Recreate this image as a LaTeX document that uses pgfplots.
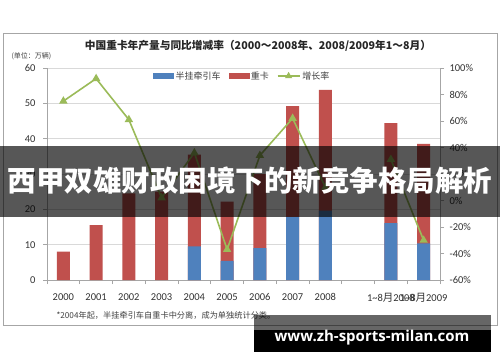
\documentclass[border=0pt]{standalone}
\usepackage{pgfplots}
\pgfplotsset{compat=1.18}
\usepackage{fontspec}
\setmainfont{Carlito}
\newfontfamily\cjk{Noto Sans CJK SC}
\newfontfamily\wmfont{Open Sans}
\definecolor{xblue}{HTML}{4F81BD}
\definecolor{xred}{HTML}{C0504D}
\definecolor{xgreen}{HTML}{9BBB59}
\definecolor{xgrid}{HTML}{D9D9D9}
\begin{document}
\begin{tikzpicture}
\path[use as bounding box, fill=white] (0pt,0pt) rectangle (500pt,362pt);
% outer frame
\draw[black!35, line width=0.8pt] (3pt,37pt) rectangle (497pt,329pt);
\node[font=\cjk\bfseries\fontsize{10.7}{13}\selectfont, text=black!85] at (258pt,316pt)
  {中国重卡年产量与同比增减率（2000～2008年、2008/2009年1～8月）};
\node[font=\cjk\fontsize{7}{8}\selectfont, text=black!75, anchor=west] at (8pt,306pt) {(单位：万辆)};
\begin{axis}[
  at={(47pt,82pt)}, anchor=south west, width=393pt, height=212pt, scale only axis,
  xmin=-0.5, xmax=11.5, ymin=0, ymax=60,
  /pgf/number format/assume math mode=true,
  axis x line*=bottom, axis y line*=left,
  axis line style={black!35},
  ytick={0,10,...,60},
  ymajorgrids, grid style={xgrid, line width=0.7pt},
  xtick={0,1,2,3,4,5,6,7,8,10,11},
  xticklabels={2000,2001,2002,2003,2004,2005,2006,2007,2008,{1\textasciitilde8{\cjk 月}2008},{1\textasciitilde8{\cjk 月}2009}},
  major x tick style={draw=none},
  minor xtick={-0.5,0.5,...,11.5},
  minor x tick style={black!35, line width=0.7pt},
  minor tick length=4pt,
  major tick length=4pt,
  y tick style={black!35, line width=0.7pt},
  tick align=outside,
  tick label style={font=\fontsize{10.5}{12}\selectfont, text=black!80},
  xticklabel style={yshift=-6pt},
  yticklabel style={xshift=-4pt},
  clip=false,
]
\addplot[ybar, bar width=13pt, bar shift=0pt, fill=xred, draw=none]
  coordinates {(0,8.0)(1,15.5)(2,24.5)(3,25.0)(4,35.5)(5,22.2)(6,30.0)(7,49.2)(8,53.8)(10,44.4)(11,38.5)};
\addplot[ybar, bar width=13pt, bar shift=0pt, fill=xblue, draw=none]
  coordinates {(4,9.5)(5,5.4)(6,9.0)(7,17.9)(8,19.6)(10,16.1)(11,10.4)};
\end{axis}
\begin{axis}[
  at={(47pt,82pt)}, anchor=south west, width=393pt, height=212pt, scale only axis,
  xmin=-0.5, xmax=11.5, ymin=-60, ymax=100,
  axis x line=none, axis y line*=right,
  axis line style={black!35},
  ytick={-60,-40,-20,0,20,40,60,80,100},
  yticklabels={-60\%,-40\%,-20\%,0\%,20\%,40\%,60\%,80\%,100\%},
  y tick style={black!35, line width=0.7pt},
  tick align=outside, major tick length=4pt,
  tick label style={font=\fontsize{10.5}{12}\selectfont, text=black!80},
  yticklabel style={xshift=2pt},
  clip=false,
  legend columns=3,
  legend style={at={(axis description cs:0.262,0.962)}, anchor=west, draw=none, fill=none,
    font=\cjk\fontsize{9}{10}\selectfont, text=black!75,
    /tikz/every even column/.append style={column sep=6pt}},
]
\addlegendimage{legend image code/.code={\fill[xblue] (0pt,-2.5pt) rectangle (20pt,2.5pt);}}
\addlegendentry{半挂牵引车}
\addlegendimage{legend image code/.code={\fill[xred] (0pt,-2.5pt) rectangle (20pt,2.5pt);}}
\addlegendentry{重卡}
\addplot[color=xgreen, line width=1.6pt, mark=triangle*, mark size=3.3pt,
  legend image code/.code={\draw[xgreen, line width=1.3pt] (0pt,0pt) -- (22pt,0pt); \fill[xgreen] (11pt,0pt) +(90:2.6pt) -- +(210:2.6pt) -- +(330:2.6pt) -- cycle;}]
  coordinates {(0,75)(1,92)(2,61)(3,2)(4,36)(5,-37)(6,34)(7,62)(8,10)};
\addlegendentry{增长率}
\addplot[color=xgreen, line width=1.6pt, mark=triangle*, mark size=3.3pt, forget plot]
  coordinates {(10,31)(11,-30)};
\end{axis}
\node[font=\cjk\fontsize{8.2}{9}\selectfont, text=black!75, anchor=west] at (53pt,47pt)
  {*2004年起，半挂牵引车自重卡中分离，成为单独统计分类。};
% banner overlay
\fill[black, opacity=0.66] (0pt,145pt) rectangle (500pt,216pt);
\node[font=\cjk\bfseries\fontsize{28.5}{30}\selectfont, text=white] at (250pt,181pt)
  {西甲双雄财政困境下的新竞争格局解析};
% watermark
\fill[black, opacity=0.6] (254pt,32pt) rectangle (491pt,47pt);
\fill[black] (254pt,10pt) rectangle (491pt,32pt);
\node[font=\wmfont\bfseries\fontsize{15}{17}\selectfont, text=white] at (372pt,24pt)
  {www.zh-sports-milan.com};
\end{tikzpicture}
\end{document}
